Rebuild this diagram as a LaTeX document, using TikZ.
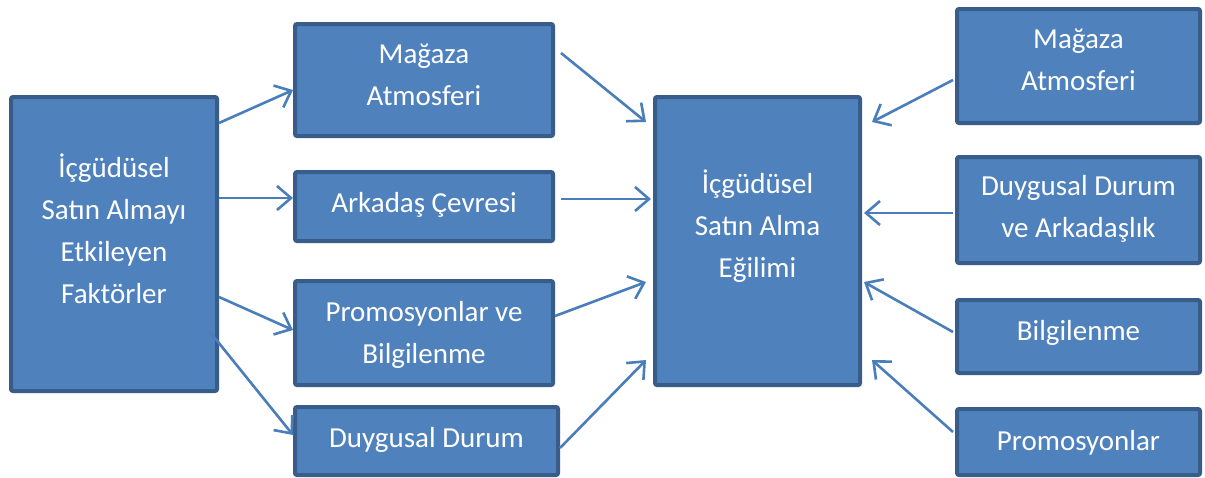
\documentclass[tikz,border=0pt]{standalone}
\usepackage{fontspec}
\setmainfont{Carlito}
\usetikzlibrary{arrows.meta,calc}
\definecolor{boxfill}{HTML}{4F81BD}
\definecolor{boxline}{HTML}{385D8A}
\definecolor{arrowblue}{HTML}{4A7EBB}
% centred lines on a fixed 42pt grid, baseline at the first line
\newcommand{\boxtext}[1]{\begin{tabular}[t]{@{}c@{}}#1\end{tabular}}
\tikzset{
  box/.style={draw=boxline, fill=boxfill, line width=4pt, rounded corners=2pt,
    text=white, inner sep=0pt, font=\fontsize{29}{42}\selectfont},
  conn/.style={draw=arrowblue, line width=2.6pt,
    -{Straight Barb[length=14pt,width=24pt]}}
}
\begin{document}
\begin{tikzpicture}[x=1pt,y=-1pt]
\useasboundingbox[fill=white] (0,0) rectangle (1205,477);

% left: influencing factors
\node[box, minimum width=206pt, minimum height=294pt, text height=0pt, text depth=134pt]
  (L) at (114,244) {\boxtext{İçgüdüsel\\Satın Almayı\\Etkileyen\\Faktörler}};

% middle column
\node[box, minimum width=258pt, minimum height=112pt, text height=0pt, text depth=34pt]
  (A1) at (424,80) {\boxtext{Mağaza\\Atmosferi}};
\node[box, minimum width=258pt, minimum height=69pt, text height=11pt, text depth=0pt]
  (A2) at (424,206.5) {\boxtext{Arkadaş Çevresi}};
\node[box, minimum width=258pt, minimum height=104pt, text height=0pt, text depth=24pt]
  (A3) at (424,333) {\boxtext{Promosyonlar ve\\Bilgilenme}};
\node[box, minimum width=263pt, minimum height=68pt, text height=12pt, text depth=0pt]
  (A4) at (426.5,441) {\boxtext{Duygusal Durum}};

% centre: tendency
\node[box, minimum width=205pt, minimum height=288pt, text height=0pt, text depth=96pt]
  (C) at (757.5,241) {\boxtext{İçgüdüsel\\Satın Alma\\Eğilimi}};

% right column
\node[box, minimum width=243pt, minimum height=114pt, text height=0pt, text depth=36pt]
  (R1) at (1078.5,66) {\boxtext{Mağaza\\Atmosferi}};
\node[box, minimum width=243pt, minimum height=106pt, text height=0pt, text depth=30pt]
  (R2) at (1078.5,210) {\boxtext{Duygusal Durum\\ve Arkadaşlık}};
\node[box, minimum width=243pt, minimum height=73pt, text height=7pt, text depth=0pt]
  (R3) at (1078.5,336.5) {\boxtext{Bilgilenme}};
\node[box, minimum width=243pt, minimum height=66pt, text height=16pt, text depth=0pt]
  (R4) at (1078.5,442) {\boxtext{Promosyonlar}};

% factors -> middle column
\draw[conn] (L.east |- 0,123) -- (A1.west |- 0,90);
\draw[conn] (L.east |- 0,198) -- (A2.west |- 0,198);
\draw[conn] (L.east |- 0,297) -- (A3.west |- 0,330);
\draw[conn] ($(L.east |- 0,332)+(-9,0)$) -- (A4.west |- 0,435);

% middle column -> centre
\draw[conn] ($(A1.east |- 0,53)+(6,0)$) -- ($(C.west |- 0,122)+(-7,0)$);
\draw[conn] ($(A2.east |- 0,199)+(6,0)$) -- ($(C.west |- 0,199)+(-2,0)$);
\draw[conn] (A3.east |- 0,316) -- ($(C.west |- 0,282)+(-7,0)$);
\draw[conn] (A4.east |- 0,448) -- ($(C.west |- 0,360)+(-7,0)$);

% right column -> centre
\draw[conn] ($(R1.west |- 0,80)+(-2,0)$) -- ($(C.east |- 0,122)+(10,0)$);
\draw[conn] ($(R2.west |- 0,213)+(-2,0)$) -- ($(C.east |- 0,213)+(2,0)$);
\draw[conn] ($(R3.west |- 0,332)+(-2,0)$) -- ($(C.east |- 0,282)+(2,0)$);
\draw[conn] ($(R4.west |- 0,432)+(-2,0)$) -- ($(C.east |- 0,360)+(10,0)$);
\end{tikzpicture}
\end{document}
